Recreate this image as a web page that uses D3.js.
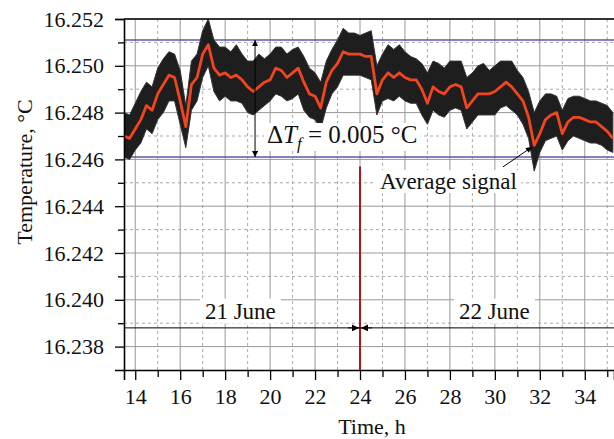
<!DOCTYPE html>
<html>
<head>
<meta charset="utf-8">
<script src="https://cdn.jsdelivr.net/npm/d3@7"></script>
<style>
  body { margin: 0; background: #fff; }
  svg, svg text { font-family: "Liberation Serif", "Times New Roman", serif; }
</style>
</head>
<body>
<div id="chart"></div>
<script>
// time axis (hours) shared by all series
var hours = [13.5,13.75,14,14.25,14.5,14.75,15,15.25,15.5,15.75,16,16.25,16.5,16.75,17,17.25,17.5,17.75,18,18.25,
  18.5,18.75,19,19.25,19.5,19.75,20,20.25,20.5,20.75,21,21.25,21.5,21.75,22,22.25,22.5,22.75,23,23.25,
  23.5,23.75,24,24.25,24.5,24.75,25,25.25,25.5,25.75,26,26.25,26.5,26.75,27,27.25,27.5,27.75,28,28.25,
  28.5,28.75,29,29.25,29.5,29.75,30,30.25,30.5,30.75,31,31.25,31.5,31.75,32,32.25,32.5,32.75,33,33.25,
  33.5,33.75,34,34.25,34.5,34.75,35,35.25];

// average signal (red)
var avgSignal = [16.2470,16.2469,16.2473,16.2477,16.2483,16.2481,16.2488,16.2492,16.2496,16.2495,
  16.2485,16.2474,16.2492,16.2495,16.2505,16.2509,16.2499,16.2496,16.2497,16.2495,
  16.2496,16.2494,16.2491,16.2489,16.2491,16.2493,16.2494,16.2499,16.2498,16.2495,
  16.2497,16.2499,16.2493,16.2488,16.2487,16.2482,16.2493,16.2498,16.2501,16.2506,
  16.2505,16.2505,16.2505,16.2504,16.2504,16.2488,16.2494,16.2497,16.2495,16.2497,
  16.2495,16.2494,16.2494,16.2490,16.2484,16.2491,16.2489,16.2488,16.2491,16.2492,
  16.2491,16.2482,16.2485,16.2488,16.2488,16.2488,16.2489,16.2491,16.2493,16.2491,
  16.2488,16.2485,16.2478,16.2466,16.2471,16.2477,16.2479,16.2480,16.2471,16.2476,
  16.2478,16.2478,16.2477,16.2476,16.2476,16.2474,16.2472,16.2469];

// raw signal envelope (black band)
var rawUpper = [16.2480,16.2479,16.2484,16.2489,16.2493,16.2491,16.2499,16.2503,16.2506,16.2505,
  16.2498,16.2483,16.2502,16.2505,16.2515,16.2520,16.2511,16.2508,16.2508,16.2506,
  16.2509,16.2505,16.2502,16.2502,16.2505,16.2503,16.2505,16.2508,16.2508,16.2505,
  16.2507,16.2508,16.2504,16.2499,16.2497,16.2493,16.2502,16.2507,16.2511,16.2516,
  16.2514,16.2514,16.2513,16.2514,16.2515,16.2500,16.2505,16.2509,16.2507,16.2509,
  16.2506,16.2504,16.2503,16.2501,16.2497,16.2502,16.2501,16.2499,16.2502,16.2502,
  16.2502,16.2495,16.2497,16.2500,16.2501,16.2498,16.2500,16.2502,16.2502,16.2502,
  16.2498,16.2495,16.2489,16.2480,16.2485,16.2488,16.2488,16.2487,16.2481,16.2486,
  16.2487,16.2487,16.2486,16.2485,16.2485,16.2484,16.2483,16.2480];
var rawLower = [16.2461,16.2460,16.2464,16.2467,16.2473,16.2471,16.2477,16.2480,16.2485,16.2485,
  16.2475,16.2465,16.2481,16.2485,16.2495,16.2500,16.2489,16.2485,16.2487,16.2485,
  16.2485,16.2484,16.2480,16.2479,16.2481,16.2483,16.2485,16.2488,16.2487,16.2485,
  16.2486,16.2488,16.2481,16.2478,16.2477,16.2473,16.2482,16.2488,16.2491,16.2496,
  16.2496,16.2496,16.2496,16.2495,16.2494,16.2479,16.2485,16.2486,16.2485,16.2487,
  16.2485,16.2484,16.2484,16.2479,16.2475,16.2481,16.2479,16.2478,16.2481,16.2482,
  16.2481,16.2473,16.2476,16.2479,16.2479,16.2479,16.2479,16.2482,16.2483,16.2481,
  16.2479,16.2475,16.2469,16.2455,16.2463,16.2468,16.2469,16.2470,16.2464,16.2468,
  16.2470,16.2469,16.2468,16.2467,16.2467,16.2466,16.2464,16.2463];

var xMajor = [14,16,18,20,22,24,26,28,30,32,34];
var xMinor = [15,17,19,21,23,25,27,29,31,33,35];
var yMajor = [16.238,16.240,16.242,16.244,16.246,16.248,16.250,16.252];
var yMinor = [16.239,16.241,16.243,16.245,16.247,16.249,16.251];

var limits = [16.2461, 16.2511];      // blue lines, dT_f = 0.005
var midnight = 24;
var dateLineT = 16.2388;
var days = ["21 June", "22 June"];
var dayLabelAt = [17.1, 28.4];

var width = 614, height = 439;
var margin = { top: 19, right: 0, bottom: 69, left: 124 };
var serif = '"Liberation Serif", "Times New Roman", serif';

var x = d3.scaleLinear().domain([13.5, 35.3]).range([margin.left, width - margin.right]);
var y = d3.scaleLinear().domain([16.237, 16.252]).range([height - margin.bottom, margin.top]);

var svg = d3.select("#chart").append("svg")
    .attr("width", width)
    .attr("height", height)
    .style("font-family", serif);

var defs = svg.append("defs");
defs.append("clipPath").attr("id", "plotclip").append("rect")
    .attr("x", margin.left).attr("y", margin.top)
    .attr("width", width - margin.left - margin.right)
    .attr("height", height - margin.top - margin.bottom);

function marker(id, w, h) {
    defs.append("marker")
        .attr("id", id)
        .attr("viewBox", "0 0 10 10")
        .attr("refX", 10).attr("refY", 5)
        .attr("markerWidth", w).attr("markerHeight", h)
        .attr("markerUnits", "userSpaceOnUse")
        .attr("orient", "auto-start-reverse")
        .append("path").attr("d", "M0,0L10,5L0,10z").attr("fill", "#000");
}
marker("arrowSmall", 8, 6);
marker("arrowDate", 10, 7);

// grid
var grid = svg.append("g");
grid.selectAll(".vminor").data(xMinor).enter().append("line")
    .attr("x1", d => x(d)).attr("x2", d => x(d))
    .attr("y1", y(16.237)).attr("y2", y(16.252))
    .attr("stroke", "#aaa").attr("stroke-dasharray", "3,3");
grid.selectAll(".hminor").data(yMinor).enter().append("line")
    .attr("x1", x(13.5)).attr("x2", width)
    .attr("y1", d => y(d)).attr("y2", d => y(d))
    .attr("stroke", "#aaa").attr("stroke-dasharray", "3,3");
grid.selectAll(".vmajor").data(xMajor).enter().append("line")
    .attr("x1", d => x(d)).attr("x2", d => x(d))
    .attr("y1", y(16.237)).attr("y2", y(16.252))
    .attr("stroke", "#999");
grid.selectAll(".hmajor").data(yMajor).enter().append("line")
    .attr("x1", x(13.5)).attr("x2", width)
    .attr("y1", d => y(d)).attr("y2", d => y(d))
    .attr("stroke", "#999");

// blue limit lines
svg.selectAll(".limit").data(limits).enter().append("line")
    .attr("x1", x(13.5)).attr("x2", width)
    .attr("y1", d => y(d)).attr("y2", d => y(d))
    .attr("stroke", "#5a5aa8").attr("stroke-width", 1.6);

var plot = svg.append("g").attr("clip-path", "url(#plotclip)");

var band = d3.area()
    .x((d, i) => x(hours[i]))
    .y0((d, i) => y(rawLower[i]))
    .y1((d, i) => y(rawUpper[i]));
plot.append("path").datum(hours)
    .attr("d", band)
    .attr("fill", "#1e1e1e")
    .attr("stroke", "#333").attr("stroke-width", 1);

var avgLine = d3.line()
    .x((d, i) => x(hours[i]))
    .y(d => y(d));
plot.append("path").datum(avgSignal)
    .attr("d", avgLine)
    .attr("fill", "none")
    .attr("stroke", "#f0451e").attr("stroke-width", 2.8)
    .attr("stroke-linejoin", "round");

// midnight line
svg.append("line")
    .attr("x1", x(midnight)).attr("x2", x(midnight))
    .attr("y1", y(16.2457)).attr("y2", y(16.237))
    .attr("stroke", "#b01818").attr("stroke-width", 2);

// date separator
svg.append("line")
    .attr("x1", x(13.5)).attr("x2", width)
    .attr("y1", y(dateLineT)).attr("y2", y(dateLineT))
    .attr("stroke", "#000").attr("stroke-width", 1);
svg.append("line")
    .attr("x1", x(midnight) - 12).attr("x2", x(midnight) - 1)
    .attr("y1", y(dateLineT)).attr("y2", y(dateLineT))
    .attr("stroke", "#000").attr("marker-end", "url(#arrowDate)");
svg.append("line")
    .attr("x1", x(midnight) + 12).attr("x2", x(midnight) + 1)
    .attr("y1", y(dateLineT)).attr("y2", y(dateLineT))
    .attr("stroke", "#000").attr("marker-end", "url(#arrowDate)");

function boxedText(g, tx, ty, size) {
    var box = g.append("rect").attr("fill", "#fff");
    var t = g.append("text").attr("x", tx).attr("y", ty)
        .style("font-family", serif)
        .attr("font-size", size).attr("fill", "#111");
    return { box: box, text: t };
}
function fitBox(bt, padX, padY) {
    var b = bt.text.node().getBBox();
    bt.box.attr("x", b.x - padX).attr("y", b.y - padY)
        .attr("width", b.width + 2 * padX).attr("height", b.height + 2 * padY);
}

days.forEach(function (d, i) {
    var bt = boxedText(svg.append("g"), x(dayLabelAt[i]), y(16.2392), 23);
    bt.text.text(d);
    fitBox(bt, 5, 0);
});

// dT_f annotation
svg.append("line")
    .attr("x1", x(19.33)).attr("x2", x(19.33))
    .attr("y1", y(limits[1])).attr("y2", y(limits[0]))
    .attr("stroke", "#000").attr("stroke-width", 1)
    .attr("marker-start", "url(#arrowSmall)")
    .attr("marker-end", "url(#arrowSmall)");
var dt = boxedText(svg.append("g"), x(19.86), y(16.2467), 25);
dt.text.append("tspan").text("\u0394");
dt.text.append("tspan").attr("font-style", "italic").text("T");
dt.text.append("tspan").attr("font-style", "italic").attr("font-size", 17).attr("dy", 6).text("f");
dt.text.append("tspan").attr("dy", -6).text(" = 0.005 \u00B0C");
fitBox(dt, 3, -2);

// average signal label
var av = boxedText(svg.append("g"), x(24.89), y(16.24473), 23);
av.text.text("Average signal");
fitBox(av, 4, -1);
svg.append("line")
    .attr("x1", x(30.36)).attr("y1", y(16.24568))
    .attr("x2", x(31.65)).attr("y2", y(16.24653))
    .attr("stroke", "#000").attr("stroke-width", 1)
    .attr("marker-end", "url(#arrowSmall)");

// axes
svg.append("g")
    .attr("transform", "translate(" + margin.left + ",0)")
    .call(d3.axisLeft(y).tickValues(yMajor).tickSize(9).tickPadding(11).tickFormat(d3.format(".3f")));
svg.append("g")
    .attr("transform", "translate(" + margin.left + ",0)")
    .call(d3.axisLeft(y).tickValues(yMinor).tickSize(6).tickFormat(""))
    .select(".domain").remove();
svg.append("g")
    .attr("transform", "translate(0," + (height - margin.bottom) + ")")
    .call(d3.axisBottom(x).tickValues(xMajor).tickSize(10).tickPadding(8).tickFormat(d3.format("d")));
svg.append("g")
    .attr("transform", "translate(0," + (height - margin.bottom) + ")")
    .call(d3.axisBottom(x).tickValues(xMinor).tickSize(7).tickFormat(""))
    .select(".domain").remove();

svg.selectAll(".tick text")
    .style("font-family", serif)
    .attr("font-size", 22).attr("fill", "#111");
svg.selectAll(".tick line").attr("stroke", "#000").attr("stroke-width", 1.3);
svg.selectAll(".domain").attr("stroke", "#000").attr("stroke-width", 1.6);

// top frame line
svg.append("line")
    .attr("x1", margin.left).attr("x2", width)
    .attr("y1", margin.top).attr("y2", margin.top)
    .attr("stroke", "#000").attr("stroke-width", 1.6);

// axis titles
svg.append("text")
    .attr("x", 372).attr("y", 434)
    .attr("text-anchor", "middle")
    .attr("font-size", 22).attr("fill", "#111")
    .text("Time, h");
svg.append("text")
    .attr("transform", "translate(32,172) rotate(-90)")
    .attr("text-anchor", "middle")
    .attr("font-size", 22).attr("fill", "#111")
    .text("Temperature, \u00B0C");
</script>
</body>
</html>
